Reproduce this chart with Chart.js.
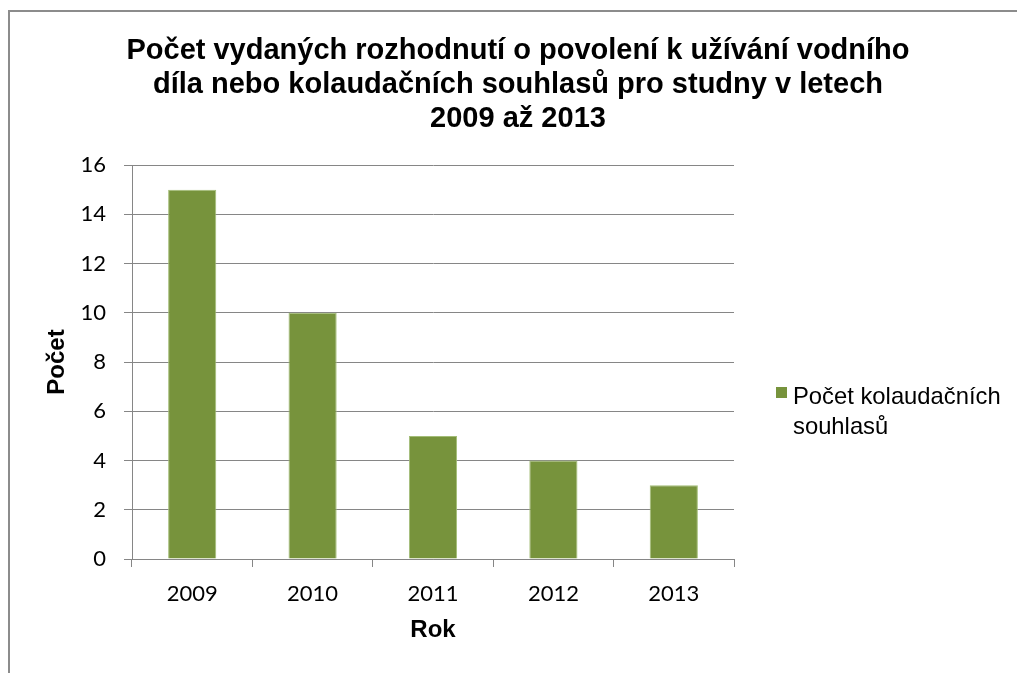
<!DOCTYPE html>
<html>
<head>
<meta charset="utf-8">
<script src="https://cdn.jsdelivr.net/npm/chart.js@4"></script>
<style>
  html, body { margin: 0; padding: 0; background: #fff; overflow: hidden; }
  #frame {
    position: absolute; left: 8px; top: 10px; width: 1040px; height: 700px;
    border-left: 2px solid #8c8c8c; border-top: 2px solid #8c8c8c;
  }
  #wrap { position: absolute; left: 10px; top: 12px; width: 1017px; height: 661px; }
  #legend { position: absolute; left: 0; top: 0; font-family: 'Liberation Sans', Arial, sans-serif; color: #000; }
  #legend .box { position: absolute; left: 776px; top: 387px; width: 11px; height: 11px; }
  #legend .txt { position: absolute; left: 793px; top: 381px; width: 224px; font-size: 23.8px; line-height: 30px; }
</style>
</head>
<body>
<div id="frame"></div>
<div id="wrap"><canvas id="chart" width="1017" height="661"></canvas></div>
<div id="legend"></div>
<script>
// data
const years = ['2009', '2010', '2011', '2012', '2013'];
const counts = [15, 10, 5, 4, 3];
const seriesName = 'Počet kolaudačních souhlasů';
const titleLines = [
  'Počet vydaných rozhodnutí o povolení k užívání vodního',
  'díla nebo kolaudačních souhlasů pro studny v letech',
  '2009 až 2013'
];
const yMin = 0, yMax = 16, yStep = 2;

const ARIAL = "'Liberation Sans', Arial, sans-serif";
const TICKFONT = "Lato, 'Open Sans', sans-serif";
const GRID = '#868686';
const GREEN = '#77933C';

const ctx = document.getElementById('chart').getContext('2d');

const chart = new Chart(ctx, {
  type: 'bar',
  data: {
    labels: years,
    datasets: [{
      label: seriesName,
      data: counts,
      backgroundColor: GREEN,
      borderColor: '#a3bd77',
      borderWidth: 1,
      barPercentage: 0.4,
      categoryPercentage: 1.0
    }]
  },
  options: {
    responsive: false,
    animation: false,
    devicePixelRatio: 1,
    layout: { padding: { left: 29, right: 30, top: 0, bottom: 24 } },
    plugins: {
      legend: { display: false },
      tooltip: { enabled: false },
      title: {
        display: true,
        text: titleLines,
        color: '#000',
        font: { family: ARIAL, size: 29, weight: 'bold', lineHeight: '34px' },
        padding: { top: 22, bottom: 29 }
      }
    },
    scales: {
      x: {
        grid: { drawOnChartArea: false, drawTicks: true, tickLength: 8, color: GRID, offset: true },
        border: { color: GRID },
        ticks: { color: '#000', padding: 14, font: { family: TICKFONT, size: 22 } },
        title: {
          display: true, text: 'Rok', color: '#000',
          font: { family: ARIAL, size: 24, weight: 'bold' },
          padding: { top: 4, bottom: 4 }
        },
        afterFit: s => { s.height = 90; }
      },
      y: {
        min: yMin,
        max: yMax,
        ticks: { stepSize: yStep, color: '#000', padding: 18, font: { family: TICKFONT, size: 22 } },
        grid: { color: GRID, tickLength: 8 },
        border: { color: GRID },
        title: {
          display: true, text: 'Počet', color: '#000',
          font: { family: ARIAL, size: 24, weight: 'bold' },
          padding: { top: 4, bottom: 4 }
        },
        afterFit: s => { s.width = 93; }
      },
      // empty axis that keeps room for the legend on the right
      pad: {
        type: 'linear',
        position: 'right',
        ticks: { display: false },
        grid: { display: false },
        border: { display: false },
        afterFit: s => { s.width = 263; }
      }
    }
  }
});

// legend as html so the label can wrap like in the original
const legend = document.getElementById('legend');
chart.data.datasets.forEach(ds => {
  const box = document.createElement('div');
  box.className = 'box';
  box.style.background = ds.backgroundColor;
  const txt = document.createElement('div');
  txt.className = 'txt';
  txt.textContent = ds.label;
  legend.appendChild(box);
  legend.appendChild(txt);
});
</script>
</body>
</html>
